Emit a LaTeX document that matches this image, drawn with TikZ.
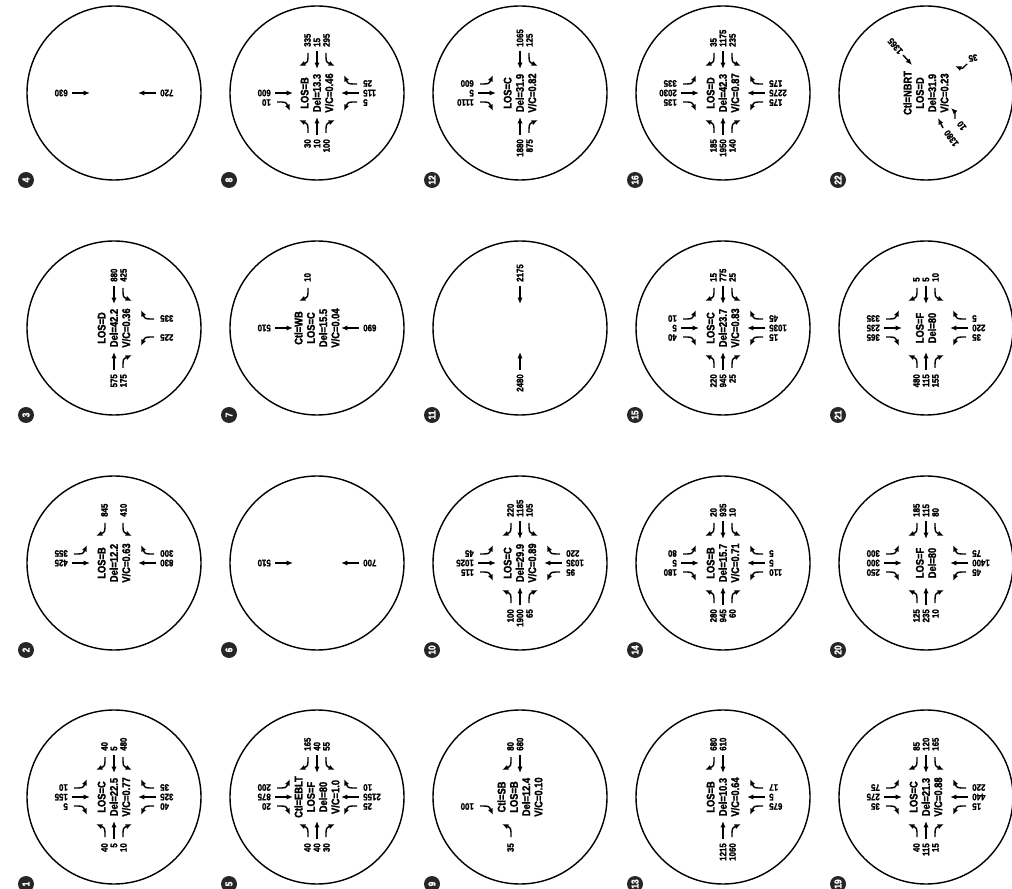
\documentclass[tikz,border=0pt]{standalone}
\usepackage{fontspec}
\setmainfont{Liberation Sans}[FakeStretch=0.84, BoldFeatures={FakeBold=1.6}]
\usetikzlibrary{arrows.meta}

% one approach: #1 name, #2 angle, #3 label style, #4 left, #5 through, #6 right
\newcommand{\appr}[6]{%
  \begin{scope}[rotate=#2]
    \if\relax\detokenize{#4}\relax\else
      \draw[mov] (9,40) .. controls (9,31) .. (18,27);
      \node[#3] (#1L) at (9.5,46) {#4};
    \fi
    \if\relax\detokenize{#5}\relax\else
      \draw[mov] (0,42) -- (0,24);
      \node[#3] (#1T) at (0,46) {#5};
    \fi
    \if\relax\detokenize{#6}\relax\else
      \draw[mov] (-9,40) .. controls (-9,31) .. (-18,27);
      \node[#3] (#1R) at (-9.5,46) {#6};
    \fi
  \end{scope}}

\begin{document}
\begin{tikzpicture}[x=0.03cm, y=0.03cm,
  site/.style={shift={#1}, rotate=90, transform shape},
  ring/.style={draw, circle, line width=1.2pt, minimum size=5.22cm, inner sep=0pt},
  badge/.style={circle, fill=black!85, text=white, inner sep=0pt, minimum size=0.48cm,
    font=\bfseries\fontsize{8.5}{8.5}\selectfont},
  info/.style={align=center, inner sep=0pt, font=\bfseries\fontsize{9.5}{10.5}\selectfont},
  vol/.style={inner sep=0pt, font=\bfseries\fontsize{8}{8}\selectfont},
  volN/.style={vol, rotate=90, anchor=west},
  volS/.style={vol, rotate=-90, anchor=east},
  mov/.style={-{Latex[length=5.5pt,width=4.5pt]}, line width=1.2pt}]
  \useasboundingbox (0,0) rectangle (1012,888);

  % Intersection 4
  \begin{scope}[site={(114,795)}]
    \node[ring] (c4) at (0,0) {};
    \node[badge] (n4) at (-87,88) {4};
    \appr{c4n}{0}{volN}{}{630}{}
    \appr{c4s}{180}{volS}{}{720}{}
  \end{scope}

  % Intersection 8
  \begin{scope}[site={(317,795)}]
    \node[ring] (c8) at (0,0) {};
    \node[badge] (n8) at (-87,88) {8};
    \node[info] (i8) at (0,0) {LOS=B\\Del=13.3\\V/C=0.46};
    \appr{c8n}{0}{volN}{}{600}{10}
    \appr{c8e}{-90}{volN}{295}{15}{335}
    \appr{c8s}{180}{volS}{5}{115}{25}
    \appr{c8w}{90}{volS}{30}{10}{100}
  \end{scope}

  % Intersection 12
  \begin{scope}[site={(520,795)}]
    \node[ring] (c12) at (0,0) {};
    \node[badge] (n12) at (-87,88) {12};
    \node[info] (i12) at (0,0) {LOS=C\\Del=31.9\\V/C=0.82};
    \appr{c12n}{0}{volN}{600}{5}{1110}
    \appr{c12e}{-90}{volN}{125}{1065}{}
    \appr{c12w}{90}{volS}{}{1880}{875}
  \end{scope}

  % Intersection 16
  \begin{scope}[site={(723,795)}]
    \node[ring] (c16) at (0,0) {};
    \node[badge] (n16) at (-87,88) {16};
    \node[info] (i16) at (0,0) {LOS=D\\Del=42.3\\V/C=0.87};
    \appr{c16n}{0}{volN}{335}{2030}{135}
    \appr{c16e}{-90}{volN}{235}{1175}{35}
    \appr{c16s}{180}{volS}{175}{2275}{175}
    \appr{c16w}{90}{volS}{185}{1950}{140}
  \end{scope}

  % Intersection 22
  \begin{scope}[site={(926,795)}]
    \node[ring] (c22) at (0,0) {};
    \node[badge] (n22) at (-87,88) {22};
    \node[info] (i22) at (0,0) {Ctl=NBRT\\LOS=D\\Del=31.9\\V/C=0.23};
    \draw[mov] (38,23) -- (28,14);
    \node[vol, anchor=west, rotate=40] (c22a) at (40,25) {1365};
    \draw[mov] (29,-41) .. controls (24,-36) .. (27,-29);
    \node[vol, rotate=100] (c22b) at (35,-47) {35};
    \draw[mov] (-35,-17) -- (-25,-12);
    \node[vol, anchor=east, rotate=36] (c22c) at (-38,-20) {1380};
    \draw[mov] (-26,-29) .. controls (-19,-29) .. (-15,-25);
    \node[vol, anchor=east, rotate=36] (c22d) at (-29,-33) {10};
  \end{scope}

  % Intersection 3
  \begin{scope}[site={(114,560)}]
    \node[ring] (c3) at (0,0) {};
    \node[badge] (n3) at (-87,88) {3};
    \node[info] (i3) at (0,0) {LOS=D\\Del=42.2\\V/C=0.36};
    \appr{c3e}{-90}{volN}{425}{880}{}
    \appr{c3s}{180}{volS}{225}{}{335}
    \appr{c3w}{90}{volS}{}{575}{175}
  \end{scope}

  % Intersection 7
  \begin{scope}[site={(317,560)}]
    \node[ring] (c7) at (0,0) {};
    \node[badge] (n7) at (-87,88) {7};
    \node[info] (i7) at (0,0) {Ctl=WB\\LOS=C\\Del=15.5\\V/C=0.04};
    \appr{c7n}{0}{volN}{}{510}{}
    \appr{c7e}{-90}{volN}{}{}{10}
    \appr{c7s}{180}{volS}{}{690}{}
  \end{scope}

  % Intersection 11
  \begin{scope}[site={(520,560)}]
    \node[ring] (c11) at (0,0) {};
    \node[badge] (n11) at (-87,88) {11};
    \appr{c11e}{-90}{volN}{}{2175}{}
    \appr{c11w}{90}{volS}{}{2480}{}
  \end{scope}

  % Intersection 15
  \begin{scope}[site={(723,560)}]
    \node[ring] (c15) at (0,0) {};
    \node[badge] (n15) at (-87,88) {15};
    \node[info] (i15) at (0,0) {LOS=C\\Del=23.7\\V/C=0.83};
    \appr{c15n}{0}{volN}{10}{5}{40}
    \appr{c15e}{-90}{volN}{25}{775}{15}
    \appr{c15s}{180}{volS}{15}{1035}{45}
    \appr{c15w}{90}{volS}{220}{945}{25}
  \end{scope}

  % Intersection 21
  \begin{scope}[site={(926,560)}]
    \node[ring] (c21) at (0,0) {};
    \node[badge] (n21) at (-87,88) {21};
    \node[info] (i21) at (0,0) {LOS=F\\Del=80};
    \appr{c21n}{0}{volN}{335}{235}{365}
    \appr{c21e}{-90}{volN}{10}{5}{5}
    \appr{c21s}{180}{volS}{35}{220}{5}
    \appr{c21w}{90}{volS}{480}{115}{155}
  \end{scope}

  % Intersection 2
  \begin{scope}[site={(114,325)}]
    \node[ring] (c2) at (0,0) {};
    \node[badge] (n2) at (-87,88) {2};
    \node[info] (i2) at (0,0) {LOS=B\\Del=12.2\\V/C=0.63};
    \appr{c2n}{0}{volN}{355}{425}{}
    \appr{c2e}{-90}{volN}{410}{}{845}
    \appr{c2s}{180}{volS}{}{830}{300}
  \end{scope}

  % Intersection 6
  \begin{scope}[site={(317,325)}]
    \node[ring] (c6) at (0,0) {};
    \node[badge] (n6) at (-87,88) {6};
    \appr{c6n}{0}{volN}{}{510}{}
    \appr{c6s}{180}{volS}{}{700}{}
  \end{scope}

  % Intersection 10
  \begin{scope}[site={(520,325)}]
    \node[ring] (c10) at (0,0) {};
    \node[badge] (n10) at (-87,88) {10};
    \node[info] (i10) at (0,0) {LOS=C\\Del=29.9\\V/C=0.89};
    \appr{c10n}{0}{volN}{45}{1025}{115}
    \appr{c10e}{-90}{volN}{105}{1185}{220}
    \appr{c10s}{180}{volS}{95}{1035}{220}
    \appr{c10w}{90}{volS}{100}{1900}{65}
  \end{scope}

  % Intersection 14
  \begin{scope}[site={(723,325)}]
    \node[ring] (c14) at (0,0) {};
    \node[badge] (n14) at (-87,88) {14};
    \node[info] (i14) at (0,0) {LOS=B\\Del=15.7\\V/C=0.71};
    \appr{c14n}{0}{volN}{80}{5}{180}
    \appr{c14e}{-90}{volN}{10}{935}{20}
    \appr{c14s}{180}{volS}{110}{5}{5}
    \appr{c14w}{90}{volS}{280}{945}{60}
  \end{scope}

  % Intersection 20
  \begin{scope}[site={(926,325)}]
    \node[ring] (c20) at (0,0) {};
    \node[badge] (n20) at (-87,88) {20};
    \node[info] (i20) at (0,0) {LOS=F\\Del=80};
    \appr{c20n}{0}{volN}{300}{300}{250}
    \appr{c20e}{-90}{volN}{80}{115}{185}
    \appr{c20s}{180}{volS}{45}{1400}{75}
    \appr{c20w}{90}{volS}{125}{235}{10}
  \end{scope}

  % Intersection 1
  \begin{scope}[site={(114,91)}]
    \node[ring] (c1) at (0,0) {};
    \node[badge] (n1) at (-87,88) {1};
    \node[info] (i1) at (0,0) {LOS=C\\Del=22.5\\V/C=0.77};
    \appr{c1n}{0}{volN}{10}{155}{5}
    \appr{c1e}{-90}{volN}{480}{5}{40}
    \appr{c1s}{180}{volS}{40}{325}{35}
    \appr{c1w}{90}{volS}{40}{5}{10}
  \end{scope}

  % Intersection 5
  \begin{scope}[site={(317,91)}]
    \node[ring] (c5) at (0,0) {};
    \node[badge] (n5) at (-87,88) {5};
    \node[info] (i5) at (0,0) {Ctl=EBLT\\LOS=F\\Del=80\\V/C=1.0};
    \appr{c5n}{0}{volN}{200}{875}{20}
    \appr{c5e}{-90}{volN}{55}{40}{165}
    \appr{c5s}{180}{volS}{25}{2155}{10}
    \appr{c5w}{90}{volS}{40}{40}{30}
  \end{scope}

  % Intersection 9
  \begin{scope}[site={(520,91)}]
    \node[ring] (c9) at (0,0) {};
    \node[badge] (n9) at (-87,88) {9};
    \node[info] (i9) at (0,0) {Ctl=SB\\LOS=B\\Del=12.4\\V/C=0.10};
    \appr{c9n}{0}{volN}{}{}{100}
    \appr{c9e}{-90}{volN}{}{680}{80}
    \appr{c9w}{90}{volS}{35}{}{}
  \end{scope}

  % Intersection 13
  \begin{scope}[site={(723,91)}]
    \node[ring] (c13) at (0,0) {};
    \node[badge] (n13) at (-87,88) {13};
    \node[info] (i13) at (0,0) {LOS=B\\Del=10.3\\V/C=0.64};
    \appr{c13e}{-90}{volN}{}{610}{680}
    \appr{c13s}{180}{volS}{675}{5}{17}
    \appr{c13w}{90}{volS}{}{1215}{1060}
  \end{scope}

  % Intersection 19
  \begin{scope}[site={(926,91)}]
    \node[ring] (c19) at (0,0) {};
    \node[badge] (n19) at (-87,88) {19};
    \node[info] (i19) at (0,0) {LOS=C\\Del=21.3\\V/C=0.88};
    \appr{c19n}{0}{volN}{75}{275}{35}
    \appr{c19e}{-90}{volN}{165}{120}{85}
    \appr{c19s}{180}{volS}{15}{440}{220}
    \appr{c19w}{90}{volS}{40}{115}{15}
  \end{scope}
\end{tikzpicture}
\end{document}
